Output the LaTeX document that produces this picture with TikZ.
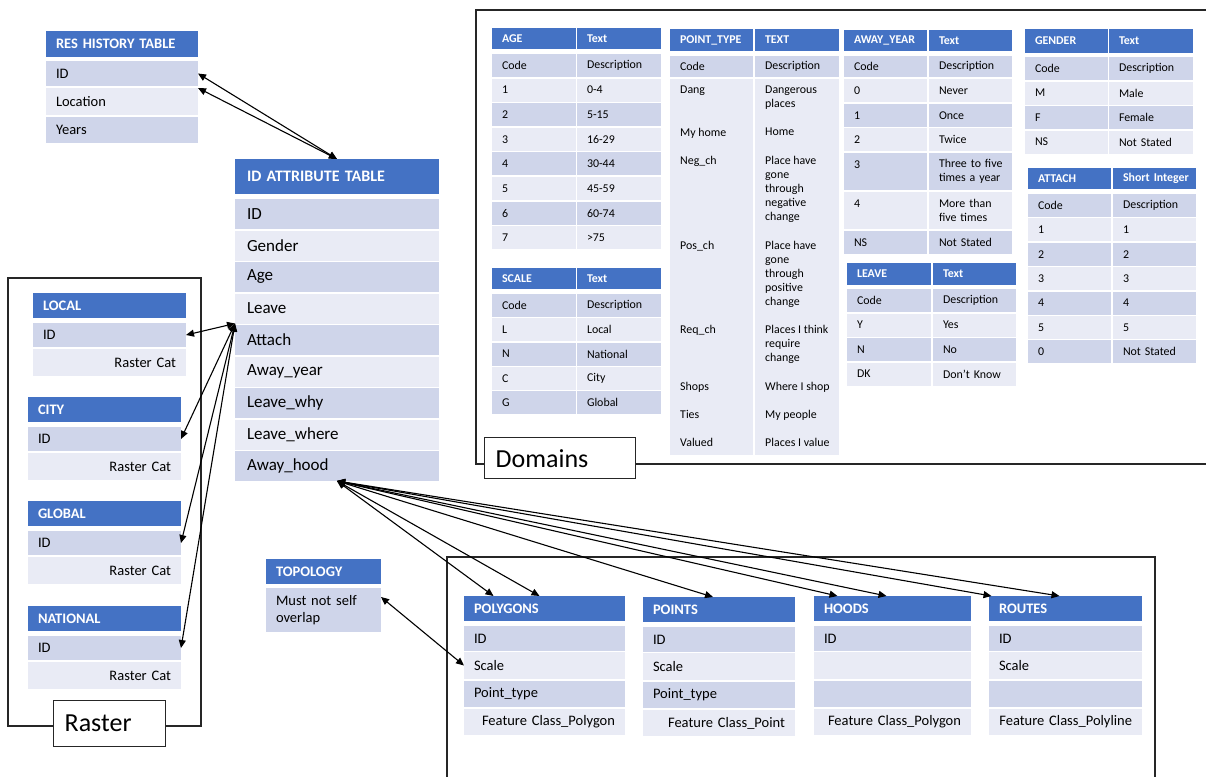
\documentclass[tikz,border=0pt]{standalone}
\usepackage{fontspec}
\setmainfont{Carlito}
\usetikzlibrary{arrows.meta}

\definecolor{hdblue}{RGB}{68,114,196}
\definecolor{dkrow}{RGB}{207,213,234}
\definecolor{ltrow}{RGB}{233,235,245}

\newcommand{\dfont}{\fontsize{11.9}{14}\selectfont}
\newcommand{\mfont}{\fontsize{14.5}{17}\selectfont}
\newcommand{\bfont}{\fontsize{17}{20}\selectfont}
\newcommand{\tagfont}{\fontsize{26}{30}\selectfont}

\tikzset{
  cell/.style={anchor=north west, inner xsep=10pt, inner ysep=0pt, outer sep=0pt, align=left},
  cellsize/.style 2 args={text width=#1, minimum height=#2},
  hd/.style={fill=hdblue, text=white, execute at begin node=\bfseries},
  txt/.style={anchor=north west, inner sep=0pt, align=left},
  areabox/.style={draw=black!85, line width=1.3pt},
  tag/.style={areabox, fill=white, anchor=north west, inner xsep=11pt, inner ysep=0pt, align=left, font=\tagfont},
  link/.style={{Triangle[length=8pt,width=7pt]}-{Triangle[length=8pt,width=7pt]}, line width=1.1pt},
}

\begin{document}
\begin{tikzpicture}[x=1pt, y=-1pt]
	\useasboundingbox (0,0) rectangle (1206,776);
	% group frames - drawn first, the tables sit on top
	\draw[areabox] (8,278) rectangle (201,726);
	\draw[areabox] (1210,10) -- (476,10) -- (476,464) -- (1210,464);
	\draw[areabox] (447,780) -- (447,557) -- (1155,557) -- (1155,780);
	\node[tag, text width=90pt, minimum height=46pt] (raster-tag) at (53,700) {Raster};
	\node[tag, text width=129pt, minimum height=41pt] (domains-tag) at (484,437) {Domains};
	% residence history
	\begin{scope}[font=\mfont, inner xsep=11pt]
		\node[cell, hd, cellsize={132pt}{26pt}] (res-hd) at (46,31) {RES HISTORY TABLE};
		\node[cell, fill=dkrow, cellsize={132pt}{25pt}] (res-id) at (46,61) {ID};
		\node[cell, fill=ltrow, cellsize={132pt}{27pt}] (res-loc) at (46,88) {Location};
		\node[cell, fill=dkrow, cellsize={132pt}{26pt}] (res-yrs) at (46,117) {Years};
	\end{scope}
	% id attribute table
	\node[cell, hd, cellsize={180pt}{35pt}, inner xsep=12pt, font=\fontsize{16}{19}\selectfont] (attr-hd) at (235,159) {ID ATTRIBUTE TABLE};
	\foreach \t/\n/\s [count=\i from 0] in {ID/id/dkrow, Gender/gender/ltrow, Age/age/dkrow, Leave/leave/ltrow, Attach/attach/dkrow, Away\_year/year/ltrow, Leave\_why/why/dkrow, Leave\_where/where/ltrow, Away\_hood/hood/dkrow}
		\node[cell, fill=\s, cellsize={180pt}{30pt}, inner xsep=12pt, font=\bfont] (attr-\n) at (235,{199+31.5*\i}) {\t};
	% raster tables
	\begin{scope}[font=\mfont]
		\foreach \n/\t/\x/\y in {local/LOCAL/33/293, city/CITY/28/397, global/GLOBAL/28/501, national/NATIONAL/28/606}
		{
			\node[cell, hd, cellsize={133pt}{25pt}] (\n-hd) at (\x,\y) {\t};
			\node[cell, fill=dkrow, cellsize={133pt}{24pt}] (\n-id) at (\x,\y+30) {ID};
			\node[cell, fill=ltrow, cellsize={133pt}{27pt}, align=right] (\n-cat) at (\x,\y+56) {Raster Cat};
		}
	\end{scope}
	% domains
	\begin{scope}[font=\dfont]
		% age
		\node[cell, hd, cellsize={64pt}{21pt}] (age-hd-a) at (492,28) {AGE};
		\node[cell, hd, cellsize={64pt}{21pt}] (age-hd-b) at (577,28) {Text};
		\foreach \c/\d/\s [count=\i from 0] in {Code/Description/dkrow, 1/0-4/ltrow, 2/5-15/dkrow, 3/16-29/ltrow, 4/30-44/dkrow, 5/45-59/ltrow, 6/60-74/dkrow, 7/>75/ltrow}
		{
			\node[cell, fill=\s, cellsize={64pt}{23pt}] (age-\i-a) at (492,{54+24.6*\i}) {\c};
			\node[cell, fill=\s, cellsize={64pt}{23pt}] (age-\i-b) at (577,{54+24.6*\i}) {\d};
		}
		% scale
		\node[cell, hd, cellsize={64pt}{21pt}] (scale-hd-a) at (492,268) {SCALE};
		\node[cell, hd, cellsize={64pt}{21pt}] (scale-hd-b) at (577,268) {Text};
		\foreach \c/\d/\s [count=\i from 0] in {Code/Description/dkrow, L/Local/ltrow, N/National/dkrow, C/City/ltrow, G/Global/dkrow}
		{
			\node[cell, fill=\s, cellsize={64pt}{23pt}] (scale-\i-a) at (492,{294+24.3*\i}) {\c};
			\node[cell, fill=\s, cellsize={64pt}{23pt}] (scale-\i-b) at (577,{294+24.3*\i}) {\d};
		}
		% point type
		\node[cell, hd, cellsize={63pt}{22pt}] (ptype-hd-a) at (670,29) {POINT\_TYPE};
		\node[cell, hd, cellsize={64pt}{22pt}] (ptype-hd-b) at (755,29) {TEXT};
		\node[cell, fill=dkrow, cellsize={63pt}{21pt}] (ptype-code-a) at (670,56) {Code};
		\node[cell, fill=dkrow, cellsize={64pt}{21pt}] (ptype-code-b) at (755,56) {Description};
		\node[cell, fill=ltrow, cellsize={63pt}{376pt}] (ptype-body-a) at (670,79) {};
		\node[cell, fill=ltrow, cellsize={64pt}{376pt}] (ptype-body-b) at (755,79) {};
		\foreach \y/\c/\d [count=\i] in {86/Dang/Dangerous\\places, 128/My home/Home, 156/Neg\_ch/Place have\\gone\\through\\negative\\change, 241/Pos\_ch/Place have\\gone\\through\\positive\\change, 325/Req\_ch/Places I think\\require\\change, 382/Shops/Where I shop, 410/Ties/My people, 438/Valued/Places I value}
		{
			\node[txt] (ptype-\i-a) at (680,\y) {\c};
			\node[txt] (ptype-\i-b) at (765,\y) {\d};
		}
		% away year
		\node[cell, hd, cellsize={63pt}{21pt}] (year-hd-a) at (844,30) {AWAY\_YEAR};
		\node[cell, hd, cellsize={63pt}{21pt}] (year-hd-b) at (929,30) {Text};
		\foreach \y/\h/\c/\d/\s [count=\i] in {56/21/Code/Description/dkrow, 79/23/0/Never/ltrow, 104/23/1/Once/dkrow, 128/23/2/Twice/ltrow, 153/37/3\\~/\mbox{Three to five}\\\mbox{times a year}/dkrow, 192/37/4\\~/\mbox{More than}\\\mbox{five times}/ltrow, 231/23/NS/\mbox{Not Stated}/dkrow}
		{
			\node[cell, fill=\s, cellsize={63pt}{\h pt}] (year-\i-a) at (844,\y) {\c};
			\node[cell, fill=\s, cellsize={63pt}{\h pt}] (year-\i-b) at (929,\y) {\d};
		}
		% leave
		\node[cell, hd, cellsize={64pt}{22pt}] (leave-hd-a) at (847,263) {LEAVE};
		\node[cell, hd, cellsize={63pt}{22pt}] (leave-hd-b) at (933,263) {Text};
		\foreach \c/\d/\s [count=\i from 0] in {Code/Description/dkrow, Y/Yes/ltrow, N/No/dkrow, DK/\mbox{Don’t Know}/ltrow}
		{
			\node[cell, fill=\s, cellsize={64pt}{23pt}] (leave-\i-a) at (847,{289+24.5*\i}) {\c};
			\node[cell, fill=\s, cellsize={63pt}{23pt}] (leave-\i-b) at (933,{289+24.5*\i}) {\d};
		}
		% gender
		\node[cell, hd, cellsize={63pt}{24pt}] (gender-hd-a) at (1025,29) {GENDER};
		\node[cell, hd, cellsize={64pt}{24pt}] (gender-hd-b) at (1109,29) {Text};
		\foreach \c/\d/\s [count=\i from 0] in {Code/Description/dkrow, M/Male/ltrow, F/Female/dkrow, NS/\mbox{Not Stated}/ltrow}
		{
			\node[cell, fill=\s, cellsize={63pt}{23pt}] (gender-\i-a) at (1025,{57+24.5*\i}) {\c};
			\node[cell, fill=\s, cellsize={64pt}{23pt}] (gender-\i-b) at (1109,{57+24.5*\i}) {\d};
		}
		% attach
		\node[cell, hd, cellsize={63pt}{21pt}] (attach-hd-a) at (1028,168) {ATTACH};
		\node[cell, hd, cellsize={63pt}{21pt}] (attach-hd-b) at (1113,168) {\mbox{Short Integer}};
		\foreach \c/\d/\s [count=\i from 0] in {Code/Description/dkrow, 1/1/ltrow, 2/2/dkrow, 3/3/ltrow, 4/4/dkrow, 5/5/ltrow, 0/\mbox{Not Stated}/dkrow}
		{
			\node[cell, fill=\s, cellsize={63pt}{23pt}] (attach-\i-a) at (1028,{194+24.4*\i}) {\c};
			\node[cell, fill=\s, cellsize={63pt}{23pt}] (attach-\i-b) at (1113,{194+24.4*\i}) {\d};
		}
	\end{scope}
	% topology
	\begin{scope}[font=\mfont, inner xsep=11pt]
		\node[cell, hd, cellsize={95pt}{25pt}] (topo-hd) at (266,559) {TOPOLOGY};
		\node[cell, fill=dkrow, cellsize={95pt}{44pt}] (topo-row) at (266,588) {Must not self\\overlap};
	\end{scope}
	% feature classes
	\begin{scope}[font=\mfont, inner xsep=11pt]
		\node[cell, hd, cellsize={141pt}{25pt}] (poly-hd) at (464,596) {POLYGONS};
		\node[cell, fill=dkrow, cellsize={141pt}{25pt}] (poly-id) at (464,626) {ID};
		\node[cell, fill=ltrow, cellsize={141pt}{27pt}] (poly-scale) at (464,652) {Scale};
		\node[cell, fill=dkrow, cellsize={141pt}{26pt}] (poly-type) at (464,681) {Point\_type};
		\node[cell, fill=ltrow, cellsize={141pt}{26pt}, align=right] (poly-fc) at (464,709) {\mbox{Feature Class\_Polygon}};
		\node[cell, hd, cellsize={132pt}{25pt}] (pts-hd) at (643,597) {POINTS};
		\node[cell, fill=dkrow, cellsize={132pt}{25pt}] (pts-id) at (643,627) {ID};
		\node[cell, fill=ltrow, cellsize={132pt}{27pt}] (pts-scale) at (643,653) {Scale};
		\node[cell, fill=dkrow, cellsize={132pt}{26pt}] (pts-type) at (643,682) {Point\_type};
		\node[cell, fill=ltrow, cellsize={132pt}{26pt}, align=right] (pts-fc) at (643,710) {\mbox{Feature Class\_Point}};
		\node[cell, hd, cellsize={137pt}{25pt}] (hoods-hd) at (814,596) {HOODS};
		\node[cell, fill=dkrow, cellsize={137pt}{25pt}] (hoods-id) at (814,626) {ID};
		\node[cell, fill=ltrow, cellsize={137pt}{27pt}] (hoods-2) at (814,652) {};
		\node[cell, fill=dkrow, cellsize={137pt}{26pt}] (hoods-3) at (814,681) {};
		\node[cell, fill=ltrow, cellsize={137pt}{26pt}, align=right] (hoods-fc) at (814,709) {\mbox{Feature Class\_Polygon}};
		\node[cell, hd, cellsize={133pt}{25pt}, inner xsep=10pt] (routes-hd) at (989,596) {ROUTES};
		\node[cell, fill=dkrow, cellsize={133pt}{25pt}, inner xsep=10pt] (routes-id) at (989,626) {ID};
		\node[cell, fill=ltrow, cellsize={133pt}{27pt}, inner xsep=10pt] (routes-scale) at (989,652) {Scale};
		\node[cell, fill=dkrow, cellsize={133pt}{26pt}, inner xsep=10pt] (routes-3) at (989,681) {};
		\node[cell, fill=ltrow, cellsize={133pt}{26pt}, inner xsep=10pt, align=right] (routes-fc) at (989,709) {\mbox{Feature Class\_Polyline}};
	\end{scope}
	% links between tables
	\draw[link] (res-id.east) -- (attr-hd.north);
	\draw[link] (res-loc.north east) -- (attr-hd.north);
	\foreach \n in {local,city,global,national}
		\draw[link] (attr-leave.south west) -- (\n-id.east);
	\draw[link] (attr-hood.south) -- ([xshift=-51pt]poly-hd.north);
	\draw[link] (attr-hood.south) -- ([xshift=-5pt]poly-hd.north);
	\draw[link] (attr-hood.south) -- ([xshift=-6pt]pts-hd.north);
	\draw[link] (attr-hood.south) -- ([xshift=-55pt]hoods-hd.north);
	\draw[link] (attr-hood.south) -- ([xshift=-6pt]hoods-hd.north);
	\draw[link] (attr-hood.south) -- ([xshift=-74pt]routes-hd.north);
	\draw[link] (attr-hood.south) -- ([xshift=-6pt]routes-hd.north);
	\draw[link] ([yshift=-9pt]topo-row.north east) -- (poly-scale.west);
\end{tikzpicture}
\end{document}
